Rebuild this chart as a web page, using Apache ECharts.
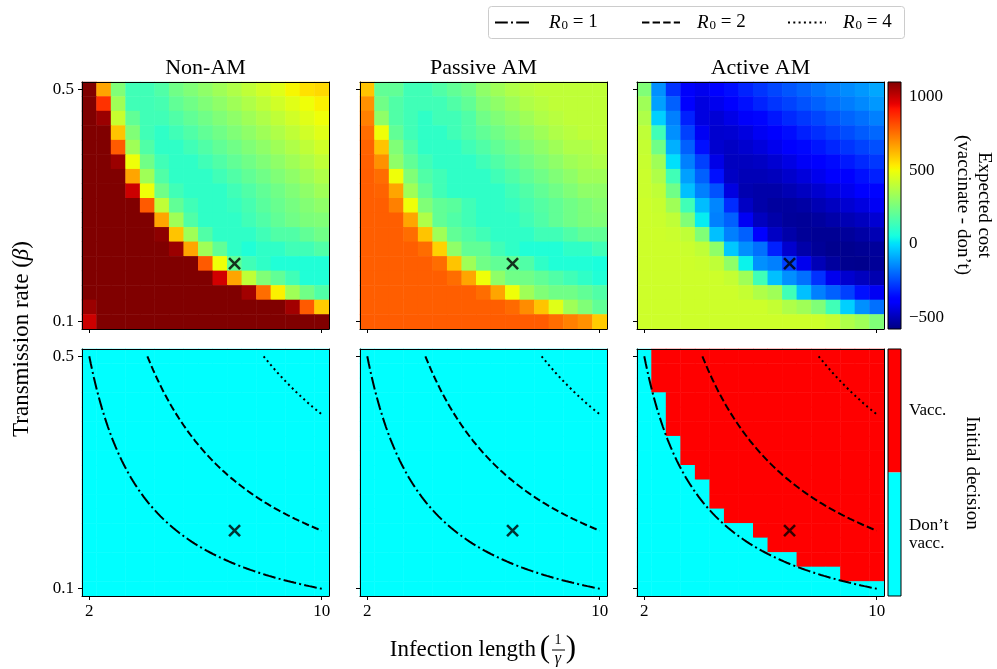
<!DOCTYPE html>
<html>
<head>
<meta charset="utf-8">
<script src="https://cdn.jsdelivr.net/npm/echarts@6/dist/echarts.min.js"></script>
<style>html,body{margin:0;padding:0;background:#fff}#chart{width:997px;height:669px}</style>
</head>
<body>
<div id="chart"></div>
<script>
// ---------------- DATA ----------------
const infectionLengths = ['2','2.5','3','3.5','4','4.5','5','5.5','6','6.5','7','7.5','8','8.5','9','9.5','10'];
const transmissionRates = ['0.1','0.125','0.15','0.175','0.2','0.225','0.25','0.275','0.3','0.325','0.35','0.375','0.4','0.425','0.45','0.475','0.5'];
const xTickLabels = ['2', '10'];
const yTickLabels = ['0.1', '0.5'];
const panelTitles = ['Non-AM', 'Passive AM', 'Active AM'];
const r0Values = [1, 2, 4];
const markerPoint = [7, 0.2];
const costTicks = [-500, 0, 500, 1000];
const costMin = -580, costMax = 1100;
const decisionLabels = ['Don\u2019t\nvacc.', 'Vacc.'];

// Expected cost (vaccinate - don't); rows: beta = 0.5 (top) ... 0.1 (bottom); columns: 1/gamma = 2 ... 10
const costNonAM = [
  [1500, 655, 268, 139, 139, 171, 236, 268, 300, 334, 366, 399, 433, 465, 510, 549, 562],
  [1500, 860, 334, 139, 139, 150, 205, 236, 268, 300, 334, 366, 399, 433, 465, 495, 520],
  [1500,1060, 415, 205, 139, 139, 171, 205, 236, 268, 300, 334, 366, 399, 433, 465, 495],
  [1500,1500, 601, 268, 139, 105, 139, 171, 205, 236, 268, 300, 334, 366, 399, 433, 465],
  [1500,1500, 789, 334, 171, 105, 105, 139, 171, 205, 236, 268, 300, 334, 366, 399, 433],
  [1500,1500,1060, 495, 236, 139, 105, 105, 139, 171, 205, 236, 268, 300, 334, 366, 399],
  [1500,1500,1500, 655, 334, 171, 105, 105, 105, 139, 171, 205, 236, 268, 300, 334, 366],
  [1500,1500,1500, 990, 495, 236, 139, 105, 105, 105, 139, 171, 205, 236, 268, 300, 334],
  [1500,1500,1500,1500, 789, 399, 205, 139, 105, 105, 120, 150, 190, 220, 250, 275, 300],
  [1500,1500,1500,1500,1500, 655, 334, 171, 105, 105, 105, 139, 171, 205, 236, 260, 268],
  [1500,1500,1500,1500,1500,1080, 601, 334, 171, 105, 105, 105, 139, 171, 171, 205, 236],
  [1500,1500,1500,1500,1500,1500,1060, 655, 334, 205, 105,  73, 105, 105, 139, 139, 171],
  [1500,1500,1500,1500,1500,1500,1500,1500, 789, 495, 205, 139, 105,  73,  73,  73,  73],
  [1500,1500,1500,1500,1500,1500,1500,1500,1500, 982, 655, 399, 268, 205, 139,  73,  73],
  [1500,1500,1500,1500,1500,1500,1500,1500,1500,1500,1500,1050, 755, 520, 334, 236, 171],
  [1060,1500,1500,1500,1500,1500,1500,1500,1500,1500,1500,1500,1500,1500,1050, 789, 588],
  [ 990,1500,1500,1500,1500,1500,1500,1500,1500,1500,1500,1500,1500,1500,1500,1500,1500]
];
const costPassiveAM = [
  [601, 205, 205, 139, 139, 171, 205, 236, 300, 334, 366, 383, 399, 399, 399, 399, 399],
  [690, 236, 171, 139, 139, 139, 171, 205, 268, 300, 334, 366, 383, 399, 399, 399, 399],
  [722, 300, 171, 139, 105, 139, 139, 171, 236, 268, 300, 334, 366, 383, 399, 399, 399],
  [755, 495, 205, 139, 105, 105, 139, 171, 205, 236, 268, 300, 334, 366, 383, 399, 399],
  [772, 601, 268, 171, 105, 105, 105, 139, 171, 205, 236, 268, 300, 334, 366, 366, 383],
  [777, 690, 300, 205, 139, 105, 105, 105, 139, 171, 205, 236, 268, 300, 334, 350, 366],
  [780, 755, 495, 268, 171, 139, 105, 105, 105, 139, 171, 205, 236, 268, 300, 334, 334],
  [780, 772, 655, 334, 205, 139, 105, 105, 105, 105, 139, 171, 205, 236, 268, 300, 300],
  [780, 780, 722, 495, 268, 205, 190, 139, 105, 105, 120, 150, 180, 205, 236, 260, 280],
  [780, 780, 780, 655, 366, 205, 171, 139, 105, 105, 105, 139, 171, 205, 236, 260, 268],
  [780, 780, 780, 755, 601, 334, 205, 171, 139, 105, 105, 105, 139, 139, 171, 205, 205],
  [780, 780, 780, 780, 755, 575, 300, 205, 205, 139, 105,  73,  73,  73, 105, 105, 139],
  [780, 780, 780, 780, 780, 755, 601, 334, 236, 205, 205, 171, 105,  73,  73,  73,  60],
  [780, 780, 780, 780, 780, 780, 755, 655, 495, 300, 236, 236, 205, 171, 139, 105,  73],
  [780, 780, 780, 780, 780, 780, 780, 780, 755, 655, 495, 334, 268, 236, 236, 205, 171],
  [780, 780, 780, 780, 780, 780, 780, 780, 780, 780, 760, 700, 601, 465, 334, 268, 205],
  [785, 785, 785, 785, 785, 785, 785, 785, 785, 785, 785, 785, 785, 755, 722, 690, 588]
];
const costActiveAM = [
  [268, -133, -290, -400, -420, -380, -350, -315, -285, -255, -230, -205, -180, -160, -140, -120,  -95],
  [334, -106, -212, -390, -440, -420, -380, -345, -315, -285, -260, -235, -210, -185, -165, -145, -120],
  [366,  -28, -160, -318, -440, -455, -430, -400, -365, -335, -305, -280, -255, -230, -205, -185, -160],
  [399,  139, -133, -265, -410, -465, -460, -440, -410, -380, -350, -320, -295, -270, -245, -220, -200],
  [410,  236,  -80, -212, -344, -465, -480, -465, -445, -420, -390, -360, -335, -310, -285, -260, -240],
  [415,  334,   -1, -160, -265, -430, -488, -488, -480, -460, -435, -405, -380, -355, -330, -305, -280],
  [420,  366,  139, -106, -212, -344, -480, -500, -500, -490, -470, -445, -420, -395, -370, -345, -320],
  [420,  399,  236,  -55, -160, -238, -440, -510, -520, -520, -505, -485, -465, -440, -420, -390, -365],
  [425,  415,  334,  139,  -60, -150, -300, -480, -520, -535, -535, -525, -505, -485, -460, -440, -410],
  [425,  420,  399,  268,   20, -160, -212, -410, -488, -520, -540, -545, -535, -520, -505, -488, -460],
  [425,  425,  420,  399,  268,  -55, -160, -212, -390, -480, -520, -545, -550, -550, -540, -525, -505],
  [425,  425,  425,  420,  399,  300,  -40, -133, -185, -318, -465, -520, -545, -557, -557, -550, -540],
  [425,  425,  425,  425,  420,  399,  300,   30, -133, -160, -265, -420, -500, -535, -557, -560, -545],
  [425,  425,  425,  425,  425,  425,  410,  334,  139,  -55, -133, -185, -290, -420, -465, -488, -510],
  [425,  425,  425,  425,  425,  425,  425,  410,  366,  334,  139,  -55, -160, -212, -265, -344, -410],
  [425,  425,  425,  425,  425,  425,  425,  425,  425,  410,  366,  334,  268,  139,  -28, -133, -185],
  [425,  425,  425,  425,  425,  425,  425,  425,  425,  425,  425,  425,  425,  410,  366,  334,  268]
];
// Initial decision (1 = Vacc., 0 = Don't vacc.); rows: beta = 0.5 (top) ... 0.1 (bottom)
const decisionNonAM = [
  '00000000000000000','00000000000000000','00000000000000000','00000000000000000',
  '00000000000000000','00000000000000000','00000000000000000','00000000000000000',
  '00000000000000000','00000000000000000','00000000000000000','00000000000000000',
  '00000000000000000','00000000000000000','00000000000000000','00000000000000000',
  '00000000000000000'
];
const decisionPassiveAM = [
  '00000000000000000','00000000000000000','00000000000000000','00000000000000000',
  '00000000000000000','00000000000000000','00000000000000000','00000000000000000',
  '00000000000000000','00000000000000000','00000000000000000','00000000000000000',
  '00000000000000000','00000000000000000','00000000000000000','00000000000000000',
  '00000000000000000'
];
const decisionActiveAM = [
  '01111111111111111','01111111111111111','01111111111111111',
  '00111111111111111','00111111111111111','00111111111111111',
  '00011111111111111','00011111111111111',
  '00001111111111111',
  '00000111111111111','00000111111111111',
  '00000011111111111',
  '00000000111111111',
  '00000000011111111',
  '00000000000111111',
  '00000000000000111',
  '00000000000000000'
];

// ---------------- STYLE / LAYOUT ----------------
const FONT = 'Liberation Serif';
const PANEL_L = [82, 360, 637];
const ROW_T = [82, 349];
const PW = 247, PH = 247;
const CB_L = 888, CB_W = 13;

const jetSeg = {
  r: [[0,0],[0.35,0],[0.66,1],[0.89,1],[1,0.5]],
  g: [[0,0],[0.125,0],[0.375,1],[0.64,1],[0.91,0],[1,0]],
  b: [[0,0.5],[0.11,1],[0.34,1],[0.65,0],[1,0]]
};
function seg(pts, t) {
  for (let i = 1; i < pts.length; i++) {
    if (t <= pts[i][0]) {
      const a = pts[i-1], b = pts[i];
      return a[1] + (b[1]-a[1]) * (t - a[0]) / (b[0] - a[0]);
    }
  }
  return pts[pts.length-1][1];
}
function jet(t) {
  const c = k => Math.round(255 * seg(jetSeg[k], t));
  return 'rgb(' + c('r') + ',' + c('g') + ',' + c('b') + ')';
}
const jetColors = [];
for (let i = 0; i <= 200; i++) jetColors.push(jet(i / 200));
const jetStops = [];
for (let i = 0; i <= 100; i++) jetStops.push({offset: i / 100, color: jet(i / 100)});

const nX = infectionLengths.length, nY = transmissionRates.length;
const tickFn = (idx) => idx === 0 || idx === nX - 1;
const xMin = +infectionLengths[0] - 0.25, xMax = +infectionLengths[nX-1] + 0.25;
const yMin = +transmissionRates[0] - 0.0125, yMax = +transmissionRates[nY-1] + 0.0125;
const betaTop = +transmissionRates[nY-1];
const Lmax = +infectionLengths[nX-1];

function gridToData(rows, parse) {
  const out = [];
  rows.forEach((row, r) => {
    const vals = parse ? row.split('').map(Number) : row;
    vals.forEach((v, c) => out.push([c, nY - 1 - r, v]));
  });
  return out;
}

const grids = [], xAxes = [], yAxes = [], series = [];
const blackLine = {show: true, lineStyle: {color: '#000', width: 1}};
for (let r = 0; r < 2; r++) {
  for (let c = 0; c < 3; c++) {
    const g = r * 3 + c;
    grids[g] = {left: PANEL_L[c], top: ROW_T[r], width: PW, height: PH};
    grids[g + 6] = {left: PANEL_L[c], top: ROW_T[r], width: PW, height: PH};
    xAxes[g] = {
      type: 'category', gridIndex: g, data: infectionLengths, boundaryGap: true, z: 10,
      axisLine: blackLine,
      axisTick: {show: true, alignWithLabel: true, interval: tickFn, length: 4, lineStyle: {color: '#000'}},
      axisLabel: {show: r === 1, interval: tickFn, color: '#000', fontFamily: FONT, fontSize: 17, margin: 7},
      splitLine: {show: false}
    };
    yAxes[g] = {
      type: 'category', gridIndex: g, data: transmissionRates, boundaryGap: true, z: 10,
      axisLine: blackLine,
      axisTick: {show: true, alignWithLabel: true, interval: tickFn, length: 4, lineStyle: {color: '#000'}},
      axisLabel: {show: c === 0, interval: tickFn, color: '#000', fontFamily: FONT, fontSize: 17, margin: 8},
      splitLine: {show: false}
    };
    xAxes[g + 6] = {
      type: 'value', gridIndex: g + 6, min: xMin, max: xMax, position: 'top', z: 10,
      axisLine: {show: true, onZero: false, lineStyle: {color: '#000', width: 1}},
      axisTick: {show: false}, axisLabel: {show: false}, splitLine: {show: false}
    };
    yAxes[g + 6] = {
      type: 'value', gridIndex: g + 6, min: yMin, max: yMax, position: 'right', z: 10,
      axisLine: {show: true, onZero: false, lineStyle: {color: '#000', width: 1}},
      axisTick: {show: false}, axisLabel: {show: false}, splitLine: {show: false}
    };
  }
}
// colorbar axes
grids[12] = {left: CB_L, top: ROW_T[0], width: CB_W, height: PH};
grids[13] = {left: CB_L, top: ROW_T[1], width: CB_W, height: PH};
xAxes[12] = {type: 'value', gridIndex: 12, min: 0, max: 1, show: false};
xAxes[13] = {type: 'value', gridIndex: 13, min: 0, max: 1, show: false};
yAxes[12] = {
  type: 'value', gridIndex: 12, min: costMin, max: costMax, position: 'right',
  axisLine: {show: false}, splitLine: {show: false},
  axisTick: {show: true, customValues: costTicks, length: 4, lineStyle: {color: '#000'}},
  axisLabel: {show: true, customValues: costTicks, color: '#000', fontFamily: FONT, fontSize: 17, margin: 8,
    formatter: v => (v < 0 ? '\u2212' + Math.abs(v) : String(v))}
};
yAxes[13] = {
  type: 'value', gridIndex: 13, min: 0, max: 2, position: 'right',
  axisLine: {show: false}, splitLine: {show: false},
  axisTick: {show: true, customValues: [0.5, 1.5], length: 4, lineStyle: {color: '#000'}},
  axisLabel: {show: true, customValues: [0.5, 1.5], color: '#000', fontFamily: FONT, fontSize: 17, margin: 8,
    lineHeight: 18, formatter: v => decisionLabels[v < 1 ? 0 : 1]}
};

// heatmaps
const costs = [costNonAM, costPassiveAM, costActiveAM];
const decisions = [decisionNonAM, decisionPassiveAM, decisionActiveAM];
costs.forEach((cg, c) => series.push({
  type: 'heatmap', xAxisIndex: c, yAxisIndex: c, data: gridToData(cg, false),
  itemStyle: {borderWidth: 0}, emphasis: {disabled: true}, silent: true, progressive: 0
}));
decisions.forEach((dg, c) => series.push({
  type: 'heatmap', xAxisIndex: 3 + c, yAxisIndex: 3 + c, data: gridToData(dg, true),
  itemStyle: {borderWidth: 0}, emphasis: {disabled: true}, silent: true, progressive: 0
}));
// R0 contours on bottom panels
const dashTypes = [[12.8, 3.2, 2, 3.2], [7.4, 3.2], [2, 3.3]];
for (let c = 0; c < 3; c++) {
  r0Values.forEach((R0, k) => {
    const Lstart = R0 / betaTop;
    const pts = [];
    for (let i = 0; i <= 150; i++) {
      const L = Lstart + (Lmax - Lstart) * i / 150;
      pts.push([L, R0 / L]);
    }
    series.push({
      type: 'line', xAxisIndex: 9 + c, yAxisIndex: 9 + c, data: pts, symbol: 'none', silent: true,
      lineStyle: {color: '#000', width: 2, type: dashTypes[k]}, z: 4
    });
  });
}
// markers
for (let g = 6; g < 12; g++) {
  series.push({
    type: 'scatter', xAxisIndex: g, yAxisIndex: g, data: [markerPoint], silent: true,
    symbol: 'path://M0,0L10,10M10,0L0,10', symbolSize: 11,
    itemStyle: {color: 'rgba(0,0,0,0)', borderColor: '#000', borderWidth: 2.6}, z: 5
  });
}

// ---------------- GRAPHICS (labels, legend, colorbars) ----------------
const txt = (x, y, text, size, extra) => Object.assign({
  type: 'text', x, y, z: 20,
  style: Object.assign({text, fontFamily: FONT, fontSize: size, fill: '#000', align: 'center', verticalAlign: 'middle'}, (extra && extra.style) || {})
}, extra && extra.rotation !== undefined ? {rotation: extra.rotation} : {});

const graphics = [];
panelTitles.forEach((t, c) => graphics.push(txt(PANEL_L[c] + PW / 2, 68, t, 22)));
// y label
graphics.push(txt(22, 339, 'Transmission rate ({b|\u03B2})', 23, {rotation: Math.PI / 2,
  style: {rich: {b: {fontStyle: 'italic', fontFamily: FONT, fontSize: 23}}}}));
// x label with fraction
graphics.push(txt(536, 650, 'Infection length', 23, {style: {align: 'right'}}));
graphics.push(txt(545, 649, '(', 31));
graphics.push(txt(558, 640, '1', 14));
graphics.push({type: 'line', z: 20, shape: {x1: 552, y1: 650, x2: 565, y2: 650}, style: {stroke: '#000', lineWidth: 1}});
graphics.push(txt(558, 659, '\u03B3', 16, {style: {fontStyle: 'italic'}}));
graphics.push(txt(571, 649, ')', 31));
// colorbar 1
graphics.push({type: 'rect', z: 15, shape: {x: CB_L, y: ROW_T[0], width: CB_W, height: PH},
  style: {fill: {type: 'linear', x: 0, y: 1, x2: 0, y2: 0, colorStops: jetStops}, stroke: '#000', lineWidth: 1}});
graphics.push(txt(973, 205, 'Expected cost\n(vaccinate - don\u2019t)', 19, {rotation: -Math.PI / 2, style: {lineHeight: 21}}));
// colorbar 2
graphics.push({type: 'rect', z: 15, shape: {x: CB_L, y: ROW_T[1], width: CB_W, height: PH / 2}, style: {fill: '#ff0000'}});
graphics.push({type: 'rect', z: 15, shape: {x: CB_L, y: ROW_T[1] + PH / 2, width: CB_W, height: PH / 2}, style: {fill: '#00ffff'}});
graphics.push({type: 'rect', z: 16, shape: {x: CB_L, y: ROW_T[1], width: CB_W, height: PH}, style: {fill: 'none', stroke: '#000', lineWidth: 1}});
graphics.push(txt(972, 473, 'Initial decision', 19, {rotation: -Math.PI / 2}));
// legend
graphics.push({type: 'rect', z: 18, shape: {x: 488.5, y: 6.5, width: 416, height: 32, r: 3}, style: {fill: '#fff', stroke: '#cccccc', lineWidth: 1}});
const legX = [[495, 531, 549], [642, 680, 697], [788, 826, 843]];
r0Values.forEach((R0, k) => {
  graphics.push({type: 'line', z: 19, shape: {x1: legX[k][0], y1: 22.5, x2: legX[k][1], y2: 22.5},
    style: {stroke: '#000', lineWidth: 2, lineDash: dashTypes[k]}});
  graphics.push({type: 'text', x: legX[k][2], y: 22.5, z: 20, style: {
    text: '{r|R}{s|0}{n| = ' + R0 + '}', align: 'left', verticalAlign: 'middle', fill: '#000',
    fontFamily: FONT, fontSize: 19,
    rich: {
      r: {fontStyle: 'italic', fontFamily: FONT, fontSize: 19},
      s: {fontFamily: FONT, fontSize: 13, verticalAlign: 'bottom', padding: [0, 0, 0, 1]},
      n: {fontFamily: FONT, fontSize: 19, whiteSpace: 'pre'}
    }}});
});

const option = {
  animation: false,
  backgroundColor: '#fff',
  textStyle: {fontFamily: FONT},
  grid: grids, xAxis: xAxes, yAxis: yAxes,
  visualMap: [
    {type: 'continuous', min: costMin, max: costMax, seriesIndex: [0, 1, 2], inRange: {color: jetColors}, show: false},
    {type: 'piecewise', seriesIndex: [3, 4, 5], pieces: [{value: 0, color: '#00ffff'}, {value: 1, color: '#ff0000'}], show: false}
  ],
  series: series,
  graphic: {elements: graphics}
};
const chart = echarts.init(document.getElementById('chart'), null, {renderer: 'canvas'});
chart.setOption(option);
</script>
</body>
</html>
